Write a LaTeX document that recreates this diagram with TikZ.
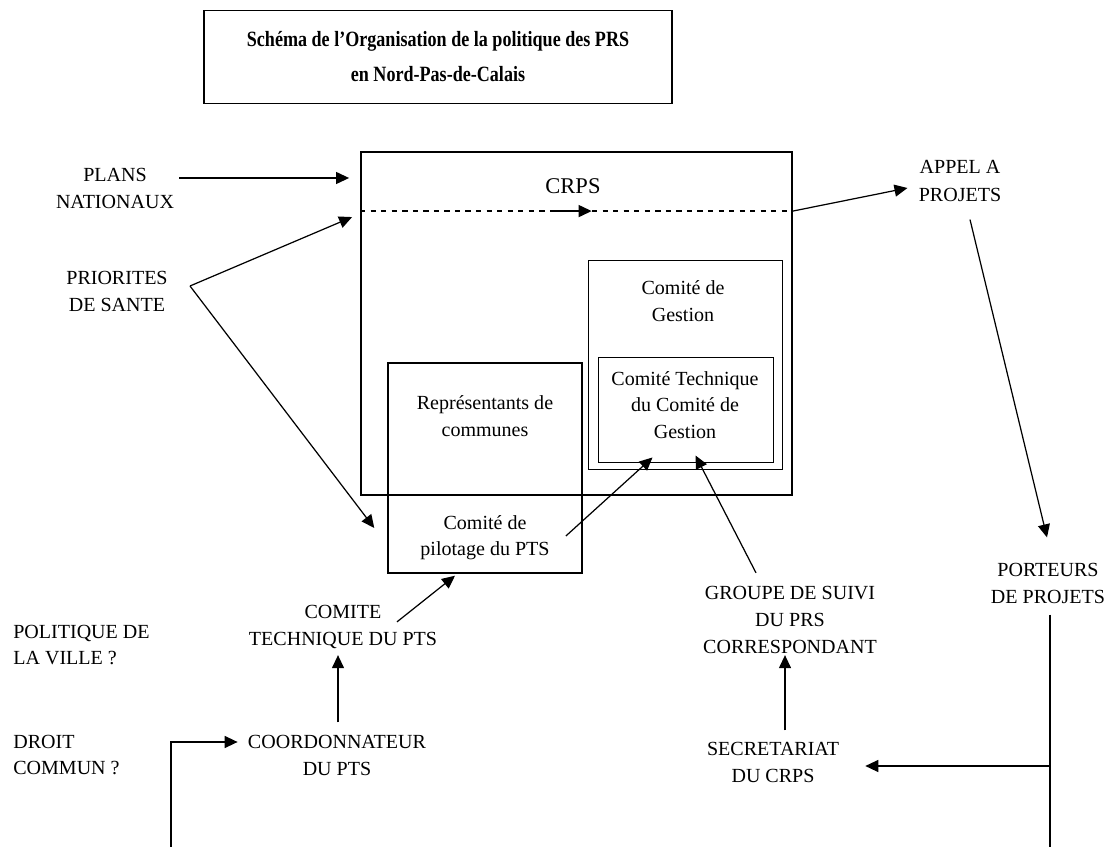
\documentclass[tikz,border=0pt]{standalone}
\usepackage{fontspec}
\setmainfont{Liberation Serif}
\usetikzlibrary{arrows.meta,calc}

\tikzset{
  caps/.style={align=center, inner sep=0.1cm, font=\fontsize{11.4}{15.4}\selectfont},
  txt/.style={align=center, inner sep=0.1cm, font=\fontsize{11.4}{15}\selectfont},
  cadre/.style={draw, line width=1.1pt, inner sep=0pt},
  boite/.style={draw, line width=0.55pt, inner sep=0pt},
  fleche/.style={-{Triangle[length=0.26cm,width=0.24cm]}, line width=0.7pt},
}

\begin{document}
\begin{tikzpicture}[x=0.02cm, y=-0.02cm]
  \useasboundingbox (0,0) rectangle (1109,847);

  % titre
  \node[cadre, minimum width=9.38cm, minimum height=1.86cm] (titre) at (438,57) {};
  \node[align=center, transform shape, xscale=0.83, font=\bfseries\fontsize{12.4}{19.9}\selectfont] at (438,57)
    {Schéma de l’Organisation de la politique des PRS\\en Nord-Pas-de-Calais};

  % les boites
  \node[cadre, minimum width=8.62cm, minimum height=6.86cm] (crps) at (576.5,323.5) {};
  \node[boite, minimum width=3.88cm, minimum height=4.2cm] (gestion) at (685,365) {};
  \node[boite, minimum width=3.5cm, minimum height=2.1cm] (tech) at (685.5,409.5) {};
  \node[draw, line width=0.85pt, inner sep=0pt, minimum width=3.88cm, minimum height=4.2cm] (repr) at (485,468) {};

  \node[caps, font=\fontsize{12.8}{15}\selectfont] (crpstxt) at (573,186) {CRPS};
  \node[txt] (gestiontxt) at (683,301) {Comité de\\Gestion};
  \node[txt] (techtxt) at (685,405) {Comité Technique\\du Comité de\\Gestion};
  \node[txt] (reprtxt) at (485,416) {Représentants de\\communes};
  \node[txt] (pilot) at (485,538) {Comité de\\pilotage du PTS};

  % les acteurs en capitales
  \foreach \nom/\x/\y/\texte in {plans/115/188/{PLANS\\NATIONAUX},
      prio/117/291/{PRIORITES\\DE SANTE},
      appel/960/181/{APPEL A\\PROJETS},
      porteurs/1048/583/{PORTEURS\\DE PROJETS},
      groupe/790/620/{GROUPE DE SUIVI\\DU PRS\\CORRESPONDANT},
      secret/773/762/{SECRETARIAT\\DU CRPS},
      comtech/343/627/{COMITE\\TECHNIQUE DU PTS},
      coord/337/755/{COORDONNATEUR\\DU PTS}} {
    \node[caps] (\nom) at (\x,\y) {\texte};
  }
  \node[txt, anchor=west, align=left] (politique) at (8,645) {POLITIQUE DE\\LA VILLE ?};
  \node[txt, anchor=west, align=left] (droit) at (8,755) {DROIT\\COMMUN ?};

  % ligne pointillee du CRPS
  \coordinate (tiret-g) at ($(crps.north west)+(0,60)$);
  \coordinate (tiret-d) at ($(crps.north east)+(0,60)$);
  \draw[dashed, line width=0.8pt] (tiret-g) -- (tiret-d);
  \draw[fleche, line width=0.8pt] ($(tiret-g)!0.45!(tiret-d)$) -- ($(tiret-g)!0.535!(tiret-d)$);

  % fleches a gauche
  \draw[fleche] ($(plans.east)+(0,-10)$) -- ($(crps.west |- plans.east)+(-11,-10)$);
  \coordinate (prio-v) at (190,286);
  \draw[fleche] (prio-v) -- ($(crps.north west)+(-8,66)$);
  \draw[fleche] (prio-v) -- ($(repr.west)+(-13,60)$);

  % fleches a droite
  \draw[fleche] (tiret-d) -- ($(appel.west)+(-6,7)$);
  \draw[fleche] ($(appel.south)+(10,13)$) -- ($(porteurs.north)+(-1,-20)$);
  \coordinate (bas-d) at (1050,847);
  \coordinate (branche) at (1050,766);
  \draw[line width=0.8pt] ($(porteurs.south)+(2,6)$) -- (bas-d);
  \draw[fleche] (branche) -- ($(secret.east)+(21,4)$);
  \draw[fleche] ($(secret.north)+(12,-6)$) -- ($(groupe.south)+(-5,-4)$);
  \draw[fleche] ($(groupe.north)+(-34,-8)$) -- ($(tech.south)+(10,-7)$);

  % fleches du milieu
  \draw[fleche] ($(pilot.east)+(11,-2)$) -- ($(tech.south)+(-33,-5)$);
  \draw[fleche] ($(comtech.north)+(54,22)$) -- ($(repr.south)+(-30,2)$);
  \draw[fleche] ($(coord.north)+(1,-7)$) -- ($(comtech.south)+(-5,1)$);
  \coordinate (bas-g) at (171,847);
  \draw[fleche, line width=0.8pt] (bas-g) |- ($(coord.west)+(-5,-13)$);
\end{tikzpicture}
\end{document}
